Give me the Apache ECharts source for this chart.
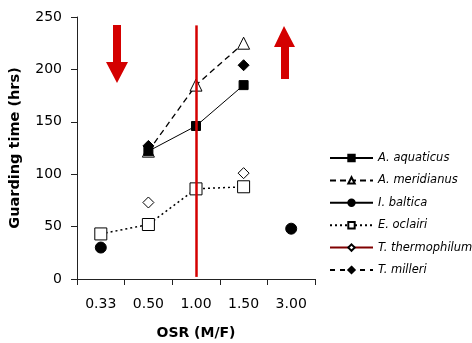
<!DOCTYPE html>
<html>
<head>
<meta charset="utf-8">
<script src="https://cdn.jsdelivr.net/npm/echarts@6/dist/echarts.min.js"></script>
<style>
  html, body { margin: 0; padding: 0; background: #fff; }
  #chart { width: 472px; height: 343px; }
</style>
</head>
<body>
<div id="chart"></div>
<script>
const osr = ['0.33', '0.50', '1.00', '1.50', '3.00']
const aquaticus = [null, 122, 146, 185, null]
const meridianus = [null, 122, 185, 225, null]
const baltica = [30, null, null, null, 48]
const oclairi = [43, 52, 86, 88, null]
const thermophilum = [null, 73, null, 101, null]
const milleri = [null, 127, null, 204, null]
const yTicks = { min: 0, max: 250, interval: 50 }
// red reference line at OSR = 1.00
const refLine = { x: '1.00', from: 2, to: 242 }

const red = '#d40000'
const font = 'DejaVu Sans'

const chart = echarts.init(document.getElementById('chart'))

const lineSeries = (name, data, symbol, size, filled, lineStyle, z) => ({
  name,
  type: 'line',
  data,
  symbol,
  symbolSize: size,
  connectNulls: false,
  z: z || 3,
  itemStyle: {
    color: filled ? '#000' : '#fff',
    borderColor: '#000',
    borderWidth: 1,
  },
  lineStyle: Object.assign({ color: '#000', width: 1 }, lineStyle),
  emphasis: { disabled: true },
})

chart.setOption({
  animation: false,
  grid: { left: 77, right: 157, top: 17, bottom: 64, outerBoundsMode: 'none', containLabel: false },
  legend: {
    orient: 'vertical',
    left: 324,
    top: 147,
    itemWidth: 43,
    itemHeight: 8,
    itemGap: 10.4,
    textStyle: { fontFamily: font, fontStyle: 'italic', fontSize: 11.5, color: '#000' },
    data: ['A. aquaticus', 'A. meridianus', 'I. baltica', 'E. oclairi', 'T. thermophilum', 'T. milleri'],
  },
  xAxis: {
    type: 'category',
    data: osr,
    boundaryGap: true,
    name: 'OSR (M/F)',
    nameLocation: 'middle',
    nameGap: 47,
    nameTextStyle: { fontFamily: font, fontWeight: 'bold', fontSize: 14, color: '#000' },
    axisLine: { lineStyle: { color: '#222', width: 1 } },
    axisTick: { show: true, length: 6, lineStyle: { color: '#222' } },
    axisLabel: { margin: 18, fontFamily: font, fontSize: 14, color: '#000' },
    splitLine: { show: false },
  },
  yAxis: {
    type: 'value',
    min: yTicks.min,
    max: yTicks.max,
    interval: yTicks.interval,
    name: 'Guarding time (hrs)',
    nameLocation: 'middle',
    nameGap: 54,
    nameTextStyle: { fontFamily: font, fontWeight: 'bold', fontSize: 14.5, color: '#000' },
    axisLine: { show: true, lineStyle: { color: '#222', width: 1 } },
    axisTick: { show: true, length: 6, lineStyle: { color: '#222' } },
    axisLabel: { margin: 15, fontFamily: font, fontSize: 14, color: '#000' },
    splitLine: { show: false },
  },
  series: [
    lineSeries('E. oclairi', oclairi, 'rect', 12, false, { type: [2, 3], width: 1.5 }, 2),
    lineSeries('T. thermophilum', thermophilum, 'diamond', 11, false, { color: '#800000' }, 2),
    lineSeries('A. meridianus', meridianus, 'triangle', 12, false, { type: [6, 4], width: 1.3 }, 2),
    {
      type: 'line',
      data: [],
      z: 3,
      markLine: {
        silent: true,
        symbol: 'none',
        label: { show: false },
        lineStyle: { color: red, width: 2.5, type: 'solid' },
        data: [[{ coord: [refLine.x, refLine.from] }, { coord: [refLine.x, refLine.to] }]],
      },
    },
    lineSeries('A. aquaticus', aquaticus, 'rect', 9, true, {}, 4),
    lineSeries('I. baltica', baltica, 'circle', 11, true, {}, 4),
    lineSeries('T. milleri', milleri, 'diamond', 11, true, { type: [5, 5], width: 2.5 }, 4),
  ],
  graphic: [
    {
      type: 'polygon',
      shape: { points: [[113, 25], [121, 25], [121, 62], [128, 62], [117, 83], [106, 62], [113, 62]] },
      style: { fill: red },
    },
    {
      type: 'polygon',
      shape: { points: [[281, 79], [289, 79], [289, 47], [295, 47], [284, 26], [274, 47], [281, 47]] },
      style: { fill: red },
    },
  ],
})
</script>
</body>
</html>
